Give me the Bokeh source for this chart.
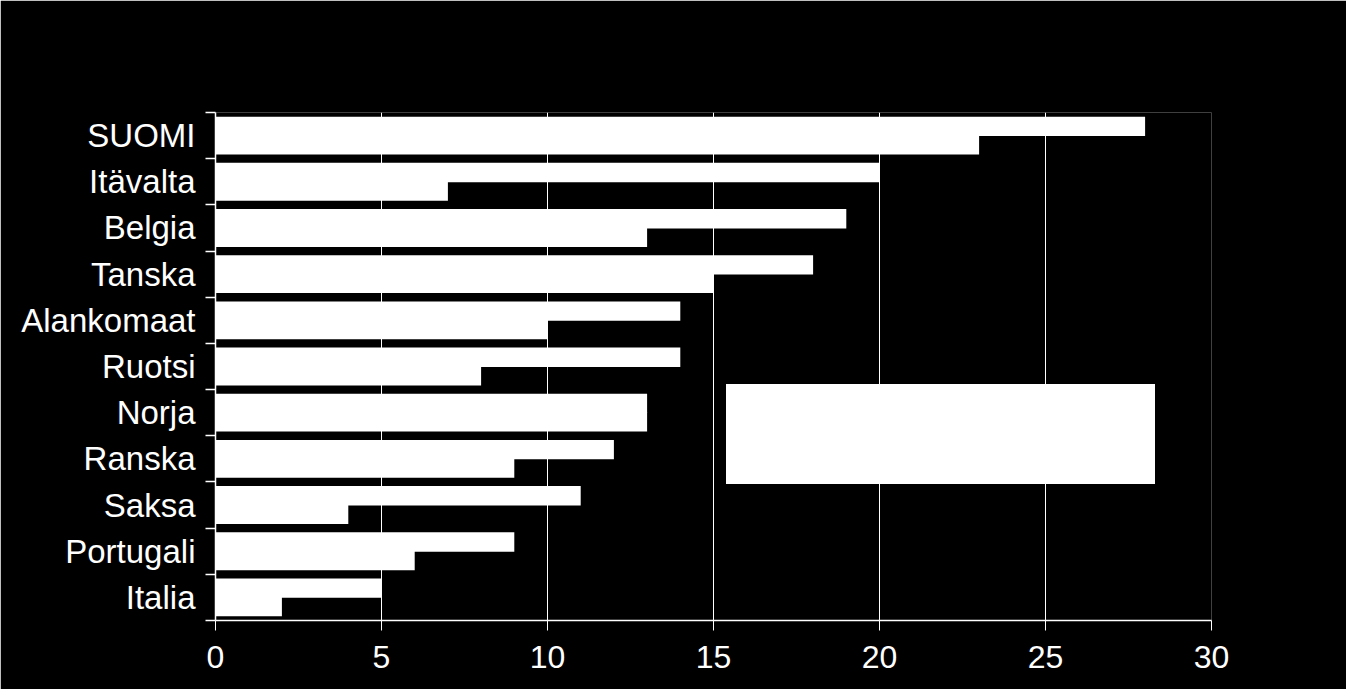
from bokeh.plotting import figure
from bokeh.models import Range1d, FixedTicker, Legend, LegendItem, ColumnDataSource
from bokeh.embed import file_html
from bokeh.resources import INLINE

categories = ["SUOMI", "Itävalta", "Belgia", "Tanska", "Alankomaat", "Ruotsi",
              "Norja", "Ranska", "Saksa", "Portugali", "Italia"]
series1 = [28, 20, 19, 18, 14, 14, 13, 12, 11, 9, 5]
series2 = [23, 7, 13, 15, 10, 8, 13, 9, 4, 6, 2]
x_ticks = [0, 5, 10, 15, 20, 25, 30]

n = len(categories)
centers = [n - i - 0.5 for i in range(n)]
src = ColumnDataSource(dict(
    y1=[c + 0.2 for c in centers],
    y2=[c - 0.2 for c in centers],
    s1=series1,
    s2=series2,
))

FONT = "Liberation Sans"

p = figure(width=1346, height=689, x_range=Range1d(0, 30), y_range=Range1d(0, n),
           output_backend="svg", toolbar_location=None,
           min_border_left=215, min_border_right=135, min_border_top=112, min_border_bottom=69,
           background_fill_color="black", border_fill_color="black", outline_line_color=None)

r1 = p.hbar(y="y1", left=0, right="s1", height=0.42, source=src,
            fill_color="white", line_color=None)
r2 = p.hbar(y="y2", left=0, right="s2", height=0.42, source=src,
            fill_color="white", line_color=None)

p.xgrid.grid_line_color = "white"
p.xgrid.grid_line_width = 1
p.ygrid.grid_line_color = None

xa = p.xaxis[0]
xa.ticker = FixedTicker(ticks=x_ticks, minor_ticks=[])
xa.axis_line_color = "white"
xa.axis_line_width = 1.5
xa.major_tick_line_color = "white"
xa.major_tick_out = 10
xa.major_tick_in = 0
xa.minor_tick_line_color = None
xa.major_label_text_color = "white"
xa.major_label_text_font = FONT
xa.major_label_text_font_size = "32px"
xa.major_label_standoff = 15

ya = p.yaxis[0]
ya.ticker = FixedTicker(ticks=centers, minor_ticks=list(range(n + 1)))
ya.major_label_overrides = {c: name for c, name in zip(centers, categories)}
ya.axis_line_color = "white"
ya.axis_line_width = 1.5
ya.major_tick_line_color = None
ya.major_tick_out = 0
ya.major_tick_in = 0
ya.minor_tick_line_color = "white"
ya.minor_tick_line_width = 1.5
ya.minor_tick_out = 10
ya.minor_tick_in = 0
ya.major_label_text_color = "white"
ya.major_label_text_font = FONT
ya.major_label_text_font_size = "33px"
ya.major_label_standoff = 10

legend = Legend(items=[LegendItem(label="Sarja 1", renderers=[r1]),
                       LegendItem(label="Sarja 2", renderers=[r2])],
                location=(511, 136), background_fill_color="white", background_fill_alpha=1,
                border_line_color=None, padding=10, spacing=0, margin=0,
                glyph_height=50, glyph_width=20, label_height=50, label_width=404,
                label_standoff=5, label_text_color="white", label_text_font=FONT,
                label_text_font_size="20px")
p.add_layout(legend)

open("out.html", "w").write(file_html(p, INLINE))
